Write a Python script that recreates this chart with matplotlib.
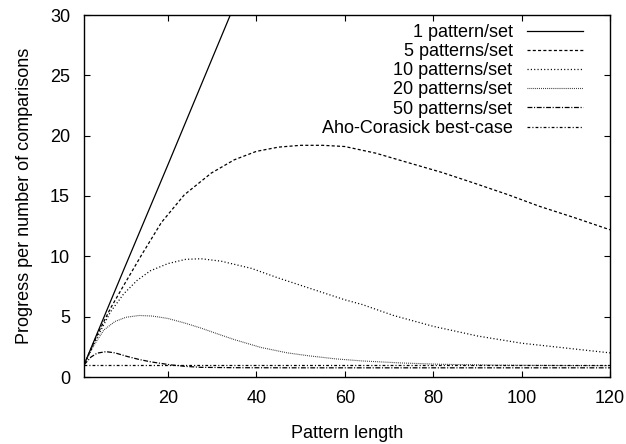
import matplotlib
matplotlib.use("Agg")
import matplotlib.pyplot as plt

plt.rcParams['font.family'] = ['Liberation Sans', 'DejaVu Sans']
plt.rcParams['lines.scale_dashes'] = False

# values
x_1 = [1, 10, 20, 30, 34.1]
y_1 = [1, 8.9, 17.6, 26.4, 30]

x_5 = [1, 4, 7, 10, 14, 18.5, 23.7, 29.8, 35, 40, 45, 50, 55, 60, 67, 74, 82, 89, 97, 104, 112, 120]
y_5 = [1, 3.5, 5.7, 7.6, 10.1, 12.8, 15.1, 16.9, 18.0, 18.7, 19.05, 19.2, 19.2, 19.1, 18.55, 17.8, 16.95, 16.1, 15.1, 14.15, 13.2, 12.2]

x_10 = [1, 4, 7, 10, 13, 16, 20, 24, 27.5, 32, 38.9, 45, 50, 55, 60, 64, 71, 80, 90, 100, 110, 120]
y_10 = [1, 3.3, 5.4, 6.9, 8.0, 8.8, 9.4, 9.75, 9.8, 9.6, 9.0, 8.2, 7.6, 7.0, 6.4, 6.0, 5.1, 4.2, 3.4, 2.8, 2.4, 2.0]

x_20 = [1, 3, 5.5, 8, 10.5, 13.5, 16.5, 20, 24, 27.5, 31, 35, 41, 47, 52, 58, 64, 73, 82, 95, 110, 120]
y_20 = [1, 2.5, 3.9, 4.6, 4.95, 5.1, 5.05, 4.85, 4.45, 4.05, 3.6, 3.1, 2.45, 2.0, 1.75, 1.5, 1.33, 1.16, 1.05, 0.98, 0.95, 0.94]

x_50 = [1, 2.6, 4, 6, 8, 10.8, 13.5, 16.2, 20.7, 24, 27.5, 35, 50, 120]
y_50 = [1, 1.66, 1.98, 2.1, 2.0, 1.7, 1.45, 1.25, 1.0, 0.88, 0.8, 0.77, 0.76, 0.76]

x_ac = [1, 120]
y_ac = [1, 1]

labels = ['1 pattern/set', '5 patterns/set', '10 patterns/set',
          '20 patterns/set', '50 patterns/set', 'Aho-Corasick best-case']

fig = plt.figure(figsize=(6.26, 4.44), dpi=100)
ax = fig.add_axes([84/626, 67/444, 526/626, 362/444])

lw = 0.9
ax.plot(x_1, y_1, color='black', lw=lw, ls='-', label=labels[0])
ax.plot(x_5, y_5, color='black', lw=lw, ls=(0, (2.2, 1.6)), label=labels[1])
ax.plot(x_10, y_10, color='black', lw=lw, ls=(0, (0.8, 1.6)), label=labels[2])
ax.plot(x_20, y_20, color='#222222', lw=0.8, ls=(0, (0.6, 0.8)), label=labels[3])
ax.plot(x_50, y_50, color='black', lw=lw, ls=(0, (3.5, 1.2, 0.8, 1.2)), label=labels[4])
ax.plot(x_ac, y_ac, color='black', lw=lw, ls=(0, (2, 1.5, 0.8, 1.5)), label=labels[5])

ax.set_xlim(1, 120)
ax.set_ylim(0, 30)
ax.set_xticks([20, 40, 60, 80, 100, 120])
ax.set_yticks([0, 5, 10, 15, 20, 25, 30])
ax.tick_params(direction='in', length=4, width=0.8, top=True, right=True,
               labelsize=13)
ax.tick_params(axis='x', pad=9)
ax.tick_params(axis='y', pad=10)
for s in ax.spines.values():
    s.set_linewidth(1.0)

ax.set_xlabel('Pattern length', fontsize=13, labelpad=13)
ax.set_ylabel('Progress per number of comparisons', fontsize=13, labelpad=12)

ax.legend(loc='upper right', bbox_to_anchor=(583/626, 420/444),
          bbox_transform=fig.transFigure, frameon=False, markerfirst=False,
          fontsize=13, handlelength=3.1, handletextpad=0.8,
          labelspacing=0.12, borderpad=0, borderaxespad=0)

fig.savefig('out.png', dpi=100)
